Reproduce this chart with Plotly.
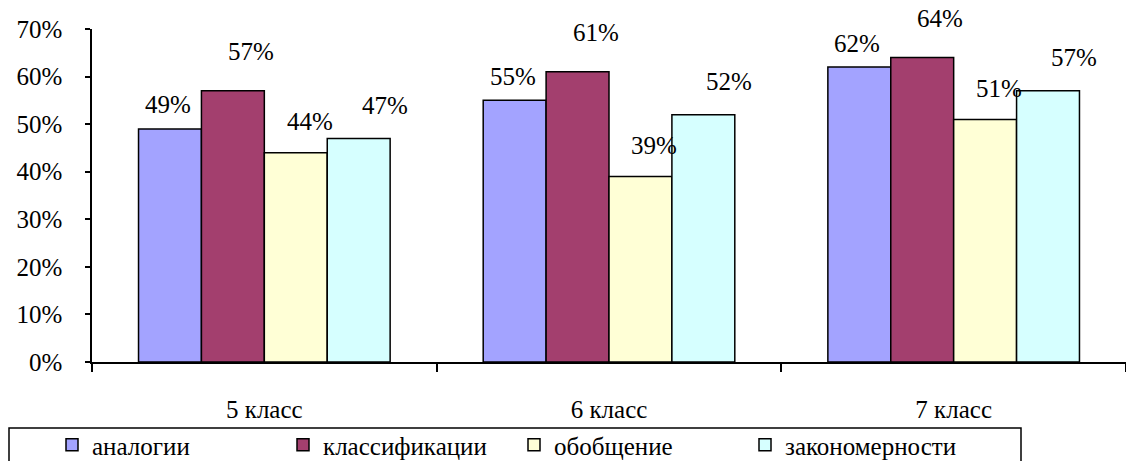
import plotly.graph_objects as go

categories = ["5 класс", "6 класс", "7 класс"]
series_names = ["аналогии", "классификации", "обобщение", "закономерности"]
analogii = [49, 55, 62]
klassifikacii = [57, 61, 64]
obobshchenie = [44, 39, 51]
zakonomernosti = [47, 52, 57]
y_ticks = [0, 10, 20, 30, 40, 50, 60, 70]
y_tick_labels = [f"{v}%" for v in y_ticks]

series_values = [analogii, klassifikacii, obobshchenie, zakonomernosti]
colors = ["#A3A3FF", "#A33F6E", "#FFFFD6", "#D6FFFF"]
# label offsets (pixels) per series, style only
label_dx = [-2, 18, 14, 26]
label_dy = [24, 39, 31, 33]

FONT = "Liberation Serif, Times New Roman, serif"
FS = 25
BARGAP = 0.27

W, H = 1126, 461
ML, MR, MT, MB = 92, 0, 29, 99
PW = W - ML - MR
PH = H - MT - MB

fig = go.Figure()
for name, vals, col in zip(series_names, series_values, colors):
    fig.add_trace(go.Bar(
        x=categories, y=vals, name=name,
        marker=dict(color=col, line=dict(color="black", width=1.5)),
    ))

n = len(series_names)
w = (1 - BARGAP) / n
annotations = []
for j, vals in enumerate(series_values):
    for i, v in enumerate(vals):
        annotations.append(dict(
            x=i + (j - (n - 1) / 2) * w, y=v, xref="x", yref="y",
            text=f"{v}%", showarrow=False,
            xanchor="center", yanchor="middle",
            xshift=label_dx[j], yshift=label_dy[j],
            font=dict(family=FONT, size=FS, color="black"),
        ))

def px_x(px):
    return (px - ML) / PW

def px_y(py):
    return (H - MB - py) / PH

fig.add_shape(type="rect", xref="paper", yref="paper",
              x0=px_x(9), x1=px_x(1021), y0=px_y(475), y1=px_y(428),
              line=dict(color="black", width=1.5), fillcolor="white", layer="below")

fig.update_layout(
    width=W, height=H,
    margin=dict(l=ML, r=MR, t=MT, b=MB, autoexpand=False),
    paper_bgcolor="white", plot_bgcolor="white",
    barmode="group", bargap=BARGAP, bargroupgap=0,
    font=dict(family=FONT, size=FS, color="black"),
    annotations=annotations,
    showlegend=True,
    legend=dict(orientation="h", x=px_x(52), y=px_y(445), xanchor="left", yanchor="middle",
                font=dict(family=FONT, size=FS, color="black"),
                entrywidth=186, entrywidthmode="pixels", itemwidth=30,
                bgcolor="rgba(0,0,0,0)", borderwidth=0),
    xaxis=dict(
        showline=True, linecolor="black", linewidth=1.5,
        ticks="outside", ticklen=8, tickwidth=1.5, tickcolor="black",
        tickson="boundaries", ticklabelstandoff=24,
        showgrid=False, zeroline=False,
        range=[-0.5, 2.5],
        tickfont=dict(family=FONT, size=FS, color="black"),
    ),
    yaxis=dict(
        range=[0, 70], tickmode="array", tickvals=y_ticks, ticktext=y_tick_labels,
        showline=True, linecolor="black", linewidth=1.5,
        ticks="outside", ticklen=5, tickwidth=1.5, tickcolor="black",
        ticklabelstandoff=18,
        showgrid=False, zeroline=False,
        tickfont=dict(family=FONT, size=FS, color="black"),
    ),
)

fig.write_html("out.html",
               config={"displayModeBar": False},
               post_script="document.body.style.margin='0';document.body.style.overflow='hidden';")
